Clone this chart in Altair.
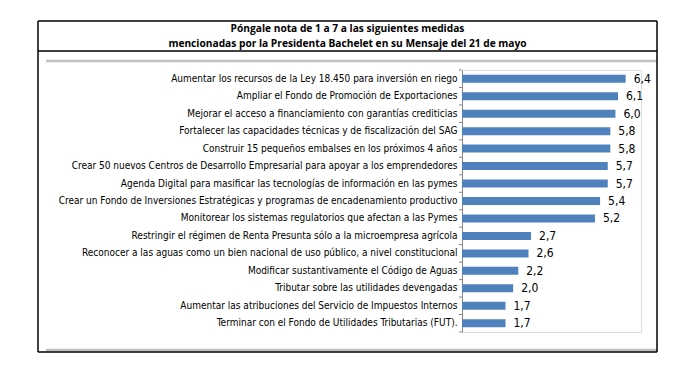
import altair as alt
import pandas as pd

categories = [
    "Aumentar los recursos de la Ley 18.450 para inversión en riego",
    "Ampliar el Fondo de Promoción de Exportaciones",
    "Mejorar el acceso a financiamiento con garantías crediticias",
    "Fortalecer las capacidades técnicas y de fiscalización del SAG",
    "Construir 15 pequeños embalses en los próximos 4 años",
    "Crear 50 nuevos Centros de Desarrollo Empresarial para apoyar a los emprendedores",
    "Agenda Digital para masificar las tecnologías de información en las pymes",
    "Crear un Fondo de Inversiones Estratégicas y programas de encadenamiento productivo",
    "Monitorear los sistemas regulatorios que afectan a las Pymes",
    "Restringir el régimen de Renta Presunta sólo a la microempresa agrícola",
    "Reconocer a las aguas como un bien nacional de uso público, a nivel constitucional",
    "Modificar sustantivamente el Código de Aguas",
    "Tributar sobre las utilidades devengadas",
    "Aumentar las atribuciones del Servicio de Impuestos Internos",
    "Terminar con el Fondo de Utilidades Tributarias (FUT).",
]
values = [6.4, 6.1, 6.0, 5.8, 5.8, 5.7, 5.7, 5.4, 5.2, 2.7, 2.6, 2.2, 2.0, 1.7, 1.7]
title_lines = [
    "Póngale nota de 1 a 7 a las siguientes medidas",
    "mencionadas por la Presidenta Bachelet en su Mensaje del 21 de mayo",
]

df = pd.DataFrame({"cat": categories, "v": values})

W, H = 179, 262
FONT = "Liberation Sans Narrow, DejaVu Sans Condensed, Arial Narrow, sans-serif"

yscale = alt.Scale(domain=categories, paddingInner=0, paddingOuter=0)
xscale = alt.Scale(domain=[0, 7])

base = alt.Chart(df)

bars = base.mark_bar(height=8, color="#4f81bd").encode(
    y=alt.Y("cat:N", sort=None, scale=yscale,
            axis=alt.Axis(title=None, ticks=False, domain=True, domainColor="#868686",
                          labelFont=FONT, labelFontSize=10, labelColor="#000",
                          labelPadding=5, labelLimit=500, labelOverlap=False)),
    x=alt.X("v:Q", scale=xscale, axis=None),
)

labels = base.transform_calculate(
    lab="replace(format(datum.v, '.1f'), '.', ',')"
).mark_text(align="left", baseline="middle", dx=8, font=FONT, fontSize=12, color="#000").encode(
    y=alt.Y("cat:N", sort=None, scale=yscale),
    x=alt.X("v:Q", scale=xscale),
    text="lab:N",
)

ticks_top = base.mark_rule(color="#868686").encode(
    y=alt.Y("cat:N", sort=None, scale=yscale, bandPosition=0),
    x=alt.value(-3), x2=alt.value(0),
)
ticks_bot = alt.Chart(df.tail(1)).mark_rule(color="#868686").encode(
    y=alt.Y("cat:N", sort=None, scale=yscale, bandPosition=1),
    x=alt.value(-3), x2=alt.value(0),
)

# frame (positions relative to plot origin at page x=462, y=70)
L, R, T, B = -424, 195, -49, 282
one = pd.DataFrame({"a": [0]})
def hline(y, x1, x2, color, w):
    return alt.Chart(one).mark_rule(color=color, strokeWidth=w).encode(
        y=alt.value(y), x=alt.value(x1), x2=alt.value(x2))
def vline(x, y1, y2, color, w):
    return alt.Chart(one).mark_rule(color=color, strokeWidth=w).encode(
        x=alt.value(x), y=alt.value(y1), y2=alt.value(y2))

frame = [
    hline(-9, -416, R, "#c0c0c0", 2.5),
    hline(280, -416, R, "#c0c0c0", 2.5),
    hline(T, L, R, "#000", 1.5),
    hline(-19, L, R, "#000", 1.5),
    hline(B, L, R, "#000", 1.5),
    vline(L, T, B, "#000", 1.5),
    vline(R, T, B, "#000", 1.5),
]

titles = [
    alt.Chart(one).mark_text(text=t, font="Open Sans, sans-serif", fontWeight="bold",
                             fontSize=10.2, align="center", baseline="middle", color="#000").encode(
        x=alt.value(-114.5), y=alt.value(yy))
    for t, yy in zip(title_lines, [-41, -26])
]

chart = alt.layer(*frame, bars, labels, ticks_top, ticks_bot, *titles).properties(
    width=W, height=H,
    padding={"left": 454, "top": 62, "right": 40, "bottom": 30},
    autosize=alt.AutoSizeParams(type="none"),
).configure_view(stroke=None).configure(background="white")

chart.save("out.html", embed_options={"renderer": "svg", "actions": False})
